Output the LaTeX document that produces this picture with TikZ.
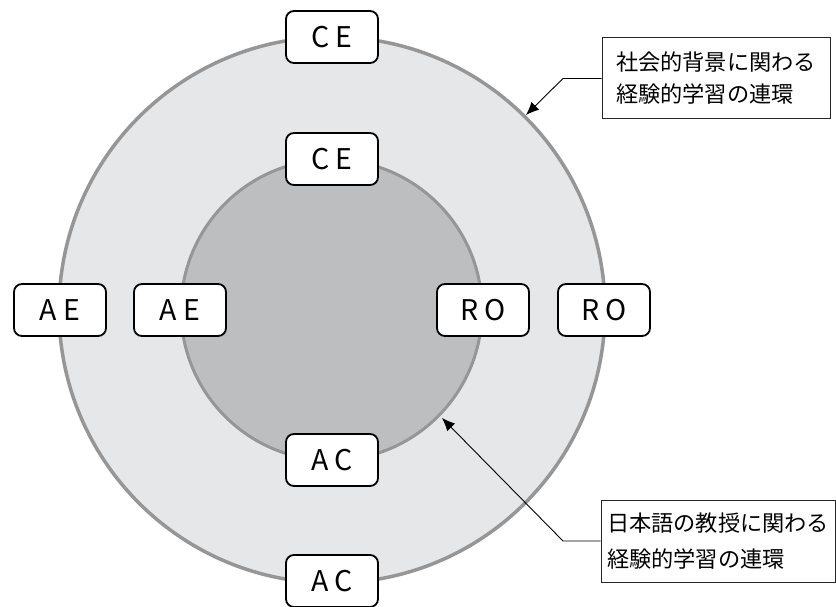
\documentclass[tikz,border=0pt]{standalone}
\usepackage{fontspec}
\usetikzlibrary{arrows.meta}
\newfontfamily\cjk{Noto Sans CJK JP}
\definecolor{outerfill}{RGB}{230,231,232}
\definecolor{innerfill}{RGB}{188,190,192}
\definecolor{ringline}{RGB}{150,150,150}
\begin{document}
\begin{tikzpicture}[x=1pt,y=-1pt,
  lab/.style={draw=black, line width=1.8pt, rounded corners=8pt, fill=white,
    minimum width=92pt, minimum height=52pt, inner sep=0pt,
    font=\cjk\fontsize{28.5}{28.5}\selectfont},
  callout/.style={draw=black!85, line width=1pt, fill=white, inner sep=0pt,
    align=left},
  leader/.style={draw=black, line width=0.9pt, -{Latex[length=13pt,width=11pt]}}]
\useasboundingbox (0,0) rectangle (836,607);
\fill[white] (0,0) rectangle (836,607);
% rings
\filldraw[fill=outerfill, draw=ringline, line width=3.5pt] (332,310) circle[radius=273];
\filldraw[fill=innerfill, draw=ringline, line width=3pt] (331.5,310) circle[radius=150.5];
% labels
\node[lab] (ceo) at (332,37) {C E};
\node[lab] (cei) at (332,159) {C E};
\node[lab] (aeo) at (60,310) {A E};
\node[lab] (aei) at (180,310) {A E};
\node[lab] (roi) at (483,310) {R O};
\node[lab] (roo) at (604,310) {R O};
\node[lab] (aci) at (332,460) {A C};
\node[lab] (aco) at (332,581) {A C};
% callouts
\node[callout, minimum width=228pt, minimum height=81pt,
  font=\cjk\fontsize{22.2}{32}\selectfont] (c1) at (716,78.5)
  {社会的背景に関わる\\経験的学習の連環};
\node[callout, minimum width=234pt, minimum height=82pt,
  font=\cjk\fontsize{22.2}{36}\selectfont] (c2) at (718,541)
  {日本語の教授に関わる\\経験的学習の連環};
\coordinate (k1) at (563,78.5);
\coordinate (t1) at (526,115);
\coordinate (k2) at (563,541);
\coordinate (t2) at (442,418);
\draw[leader] (c1.west) -- (k1) -- (t1);
\draw[leader] (c2.west) -- (k2) -- (t2);
\end{tikzpicture}
\end{document}
